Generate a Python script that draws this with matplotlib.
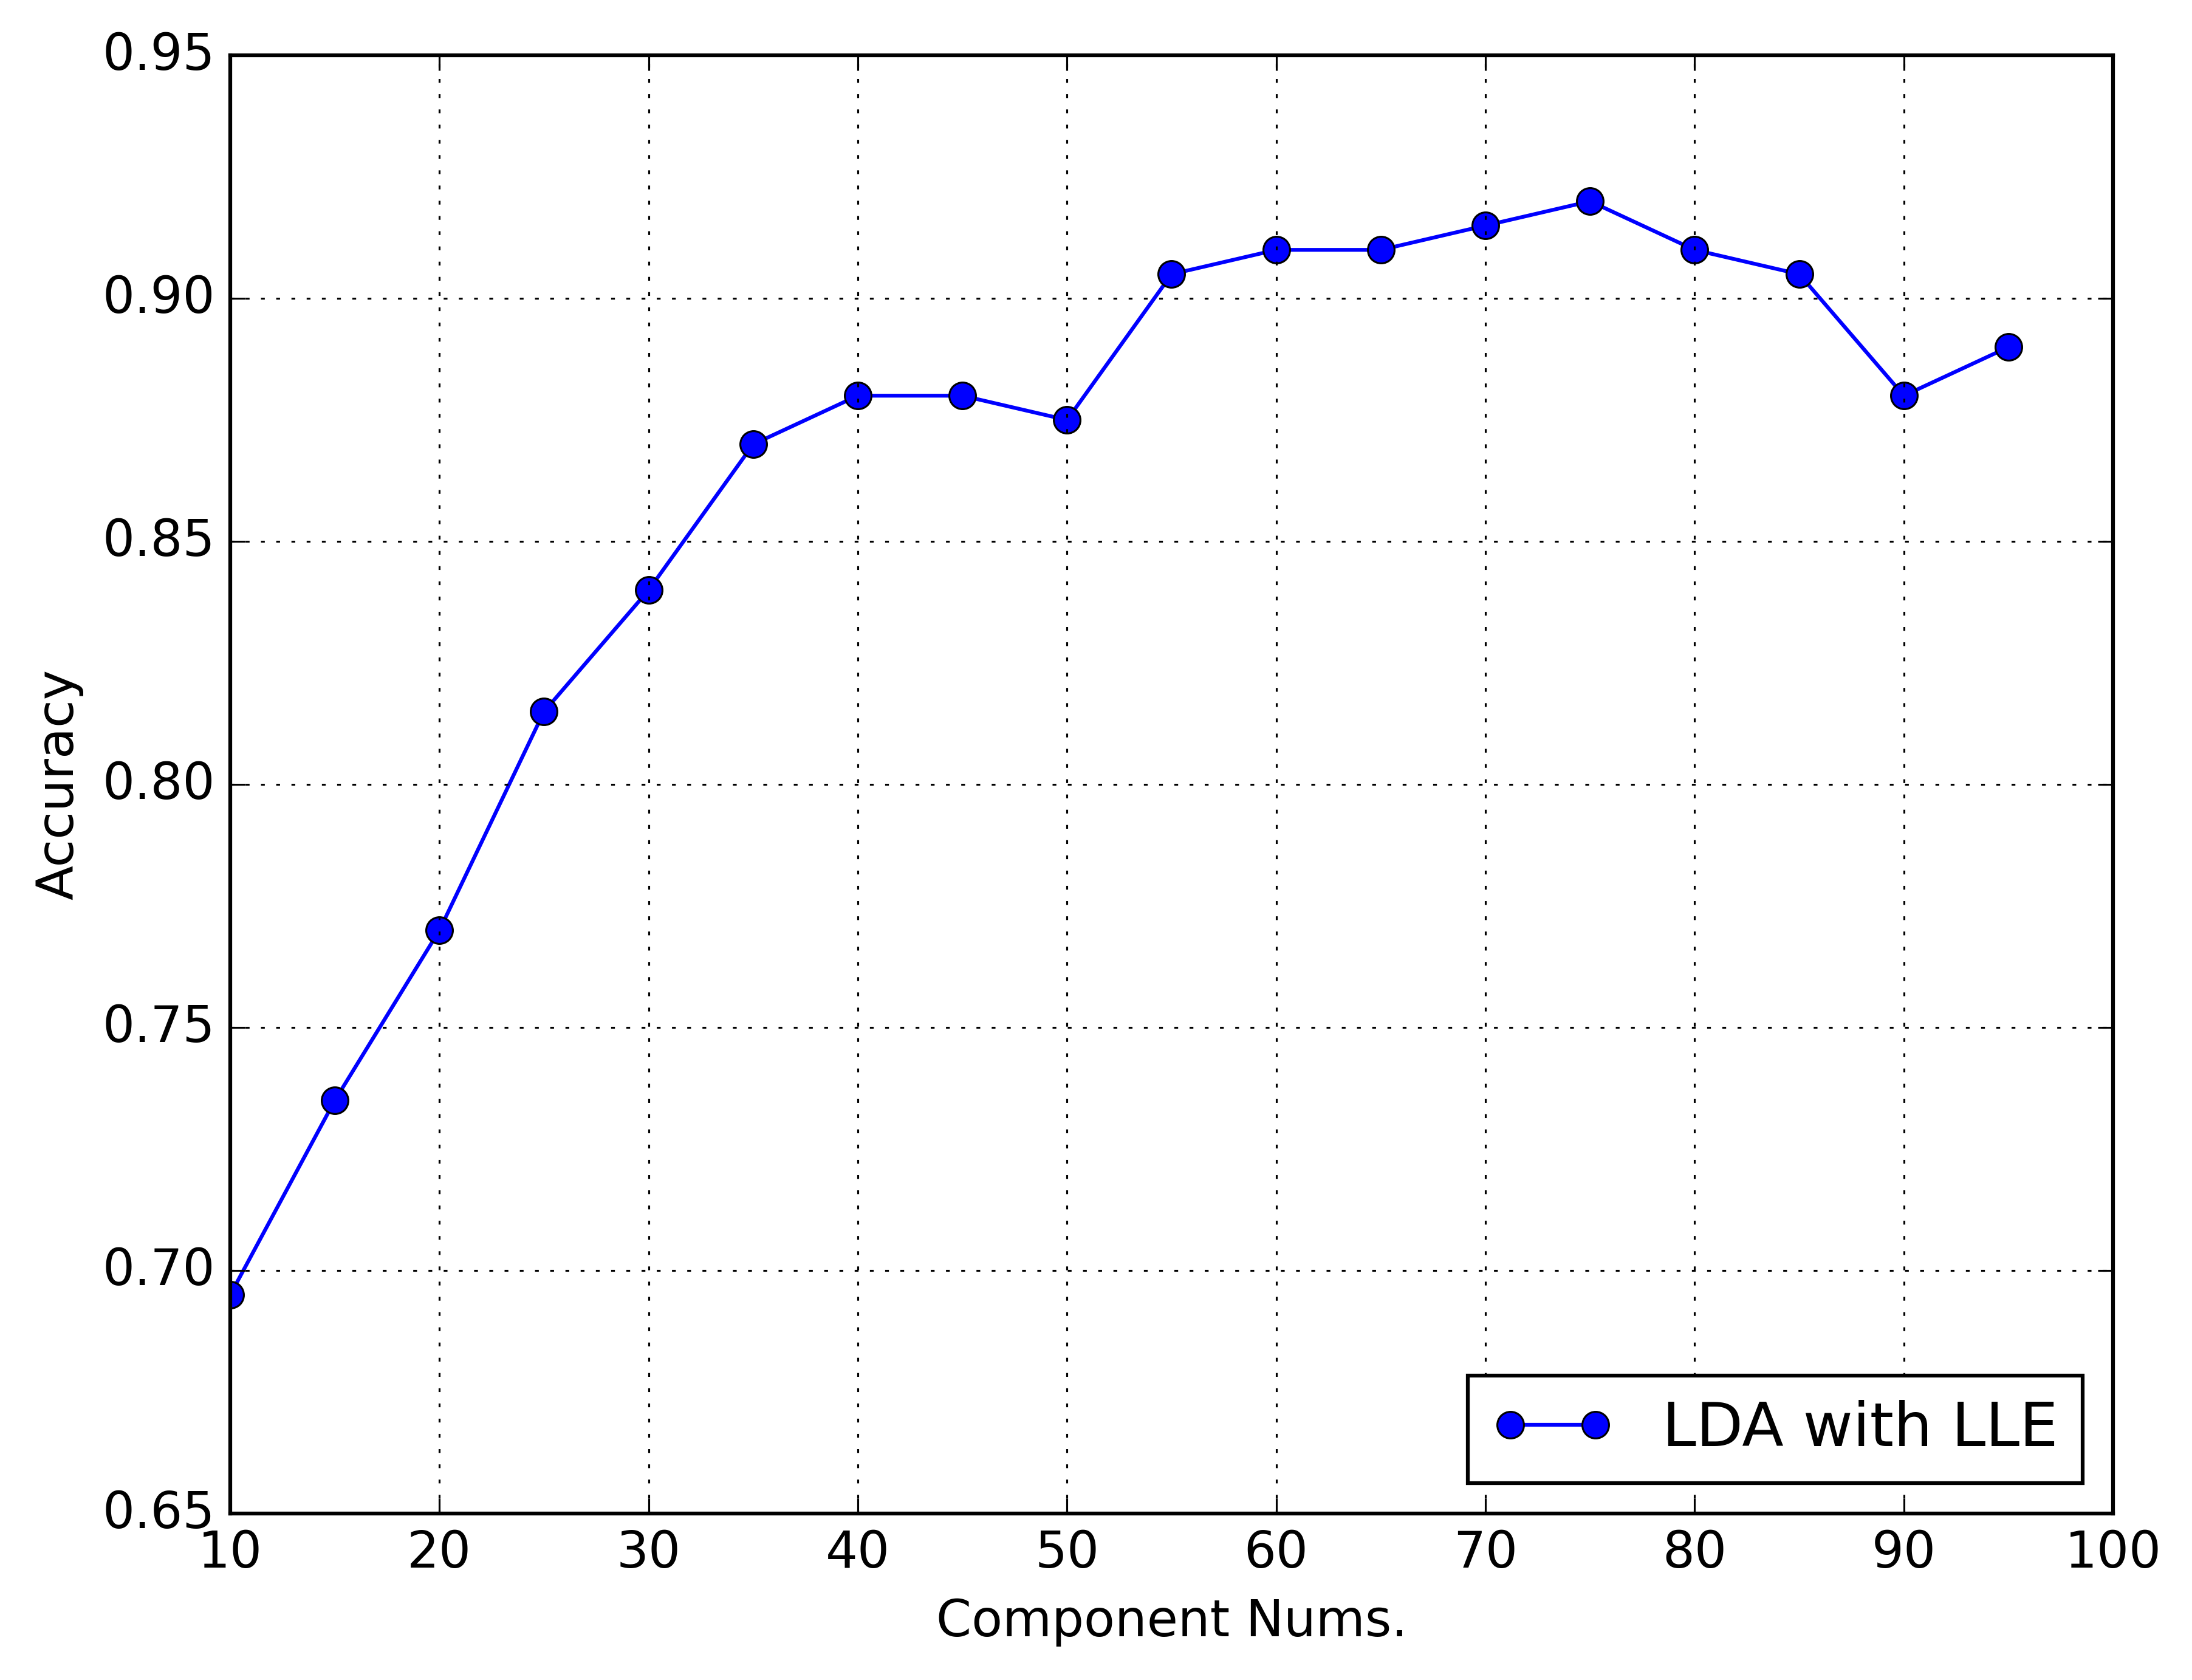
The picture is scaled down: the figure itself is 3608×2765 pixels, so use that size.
import matplotlib
matplotlib.use("Agg")
import matplotlib.pyplot as plt

plt.style.use('classic')
plt.rcParams['font.size'] = 13.3

components = [10, 15, 20, 25, 30, 35, 40, 45, 50, 55, 60, 65, 70, 75, 80, 85, 90, 95]
accuracy = [0.695, 0.735, 0.77, 0.815, 0.84, 0.87, 0.88, 0.88, 0.875, 0.905,
            0.91, 0.91, 0.915, 0.92, 0.91, 0.905, 0.88, 0.89]
series_label = "LDA with LLE"

fig = plt.figure(figsize=(3608 / 451, 2765 / 451), dpi=451)
ax = fig.add_subplot(111)
fig.subplots_adjust(left=0.105, right=0.964, top=0.967, bottom=0.099)

ax.plot(components, accuracy, 'bo-', markersize=7, label=series_label)
ax.set_xlim(10, 100)
ax.set_ylim(0.65, 0.95)
ax.set_xlabel("Component Nums.")
ax.set_ylabel("Accuracy")
ax.grid(True)
ax.legend(loc='lower right', fontsize=16)

fig.savefig("out.png", dpi=451)
